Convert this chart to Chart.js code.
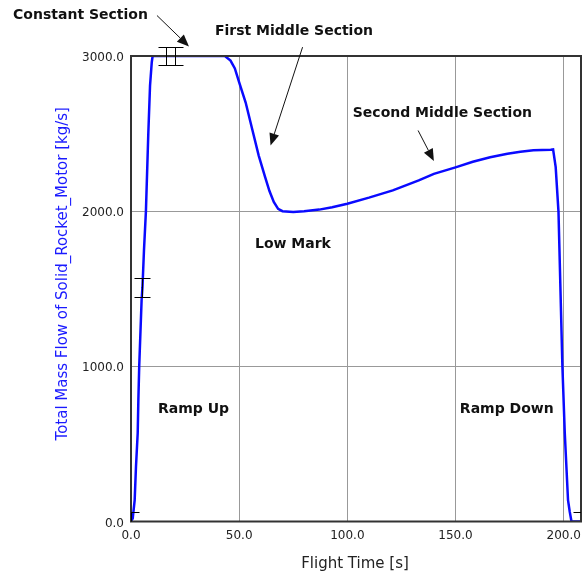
<!DOCTYPE html>
<html>
<head>
<meta charset="utf-8">
<script src="https://cdn.jsdelivr.net/npm/chart.js@4"></script>
<style>
  html, body { margin: 0; padding: 0; background: #fff; }
  #wrap { width: 584px; height: 577px; }
</style>
</head>
<body>
<div id="wrap"><canvas id="chart" width="584" height="577"></canvas></div>
<script>
// Mass flow curve (time in s, flow in kg/s)
const times = [0, 0.8, 1.7, 2.3, 3.1, 3.4, 3.8, 4.9, 5.3, 6.0, 6.9, 8.0, 8.8, 9.6, 10.0,
  43.4, 46, 48, 50, 53, 56, 59, 62, 64, 66, 68, 70, 75, 80, 87, 93, 100, 110, 121, 133,
  140, 150, 158, 166, 174, 180, 186, 194, 195.1, 196.3, 197.6, 199.4, 200.5, 202, 202.8, 203.6, 208];
const flows = [0, 20, 138, 353, 570, 782, 1000, 1426, 1510, 1748, 2000, 2500, 2810, 2960, 3000,
  3000, 2970, 2920, 2830, 2700, 2530, 2360, 2220, 2130, 2060, 2015, 2000, 1995, 2000, 2010, 2025, 2048, 2087, 2134, 2198,
  2240, 2282, 2318, 2348, 2370, 2383, 2392, 2396, 2398, 2284, 1994, 1001, 570, 138, 63, 0, 0];

// error bars
const errTimes = [0, 5.3, 16.0, 20.4, 208];
const errCenters = [0, 1510, 3000, 3000, 0];
const errHalf = [60, 60, 60, 60, 60];

const xTicks = [0, 50, 100, 150, 200];
const yTicks = [0, 1000, 2000, 3000];

// annotations (data coordinates)
const noteTexts = ['Constant Section', 'First Middle Section', 'Second Middle Section', 'Low Mark', 'Ramp Up', 'Ramp Down'];
const noteX = [-54.5, 38.8, 102.5, 57.3, 12.5, 152];
const noteY = [3241, 3138, 2606, 1761, 698, 698];
const arrowFromX = [12.0, 79.3, 132.7];
const arrowFromY = [3261, 3057, 2520];
const arrowToX = [26.8, 64.5, 140.0];
const arrowToY = [3061, 2424, 2323];

Chart.defaults.font.family = "'DejaVu Sans', Verdana, sans-serif";
Chart.defaults.color = '#222';

const decorPlugin = {
  id: 'decor',
  afterDatasetsDraw(chart) {
    const { ctx, chartArea: a, scales: { x, y } } = chart;
    ctx.save();

    // frame
    ctx.strokeStyle = '#333';
    ctx.lineWidth = 2;
    ctx.strokeRect(a.left, a.top, a.right - a.left, a.bottom - a.top);

    // error bars, clipped at the sides and the bottom of the plot
    ctx.save();
    ctx.beginPath();
    ctx.rect(a.left, 0, a.right - a.left, a.bottom);
    ctx.clip();
    ctx.strokeStyle = '#000';
    ctx.lineWidth = 1;
    errTimes.forEach((t, i) => {
      const px = Math.round(x.getPixelForValue(t)) + 0.5;
      const hi = Math.round(y.getPixelForValue(errCenters[i] + errHalf[i])) + 0.5;
      const lo = Math.round(y.getPixelForValue(errCenters[i] - errHalf[i])) + 0.5;
      ctx.beginPath();
      ctx.moveTo(px, hi); ctx.lineTo(px, lo);
      ctx.moveTo(px - 8, hi); ctx.lineTo(px + 8, hi);
      ctx.moveTo(px - 8, lo); ctx.lineTo(px + 8, lo);
      ctx.stroke();
    });
    ctx.restore();

    // arrows
    ctx.strokeStyle = '#111';
    ctx.fillStyle = '#111';
    ctx.lineWidth = 1;
    arrowFromX.forEach((fx, i) => {
      const x0 = x.getPixelForValue(fx), y0 = y.getPixelForValue(arrowFromY[i]);
      const x1 = x.getPixelForValue(arrowToX[i]), y1 = y.getPixelForValue(arrowToY[i]);
      const ang = Math.atan2(y1 - y0, x1 - x0);
      const len = 12, w = 5;
      const bx = x1 - len * Math.cos(ang), by = y1 - len * Math.sin(ang);
      ctx.beginPath();
      ctx.moveTo(x0, y0); ctx.lineTo(bx, by);
      ctx.stroke();
      ctx.beginPath();
      ctx.moveTo(x1, y1);
      ctx.lineTo(bx + w * Math.sin(ang), by - w * Math.cos(ang));
      ctx.lineTo(bx - w * Math.sin(ang), by + w * Math.cos(ang));
      ctx.closePath();
      ctx.fill();
    });

    // notes
    ctx.font = "bold 14px 'DejaVu Sans'";
    ctx.textAlign = 'left';
    ctx.textBaseline = 'alphabetic';
    noteTexts.forEach((txt, i) => {
      ctx.fillText(txt, x.getPixelForValue(noteX[i]), y.getPixelForValue(noteY[i]));
    });

    // axis titles
    ctx.font = "15px 'DejaVu Sans'";
    ctx.fillStyle = '#222';
    ctx.textAlign = 'center';
    ctx.fillText('Flight Time [s]', (a.left + a.right) / 2 - 1, a.bottom + 46);

    ctx.save();
    ctx.translate(a.left - 68, (a.top + a.bottom) / 2 - 15);
    ctx.rotate(-Math.PI / 2);
    ctx.fillStyle = '#1a1aff';
    ctx.textBaseline = 'middle';
    ctx.fillText('Total Mass Flow of Solid_Rocket_Motor [kg/s]', 0, 0);
    ctx.restore();

    ctx.restore();
  }
};

new Chart(document.getElementById('chart'), {
  type: 'line',
  data: {
    datasets: [{
      data: times.map((t, i) => ({ x: t, y: flows[i] })),
      borderColor: '#0a0aff',
      borderWidth: 2.5,
      pointRadius: 0,
      tension: 0,
      fill: false
    }]
  },
  options: {
    responsive: false,
    animation: false,
    layout: { padding: { top: 56, right: 3, left: 0, bottom: 0 } },
    plugins: { legend: { display: false }, tooltip: { enabled: false } },
    scales: {
      x: {
        type: 'linear',
        min: 0,
        max: 208,
        afterBuildTicks: s => { s.ticks = xTicks.map(v => ({ value: v })); },
        afterFit: s => { s.height = 55.5; s.paddingLeft = 0; s.paddingRight = 0; },
        grid: { color: '#999', lineWidth: 1, drawTicks: false },
        border: { display: false },
        ticks: { padding: 7, maxRotation: 0, autoSkip: false, font: { size: 12 }, color: '#222',
          callback: v => Number(v).toFixed(1) }
      },
      y: {
        min: 0,
        max: 3000,
        afterBuildTicks: s => { s.ticks = yTicks.map(v => ({ value: v })); },
        afterFit: s => { s.width = 131; s.paddingTop = 0; s.paddingBottom = 0; },
        grid: { color: '#999', lineWidth: 1, drawTicks: false },
        border: { display: false },
        ticks: { padding: 7, labelOffset: 2, autoSkip: false, font: { size: 12 }, color: '#222',
          callback: v => Number(v).toFixed(1) }
      }
    }
  },
  plugins: [decorPlugin]
});
</script>
</body>
</html>
